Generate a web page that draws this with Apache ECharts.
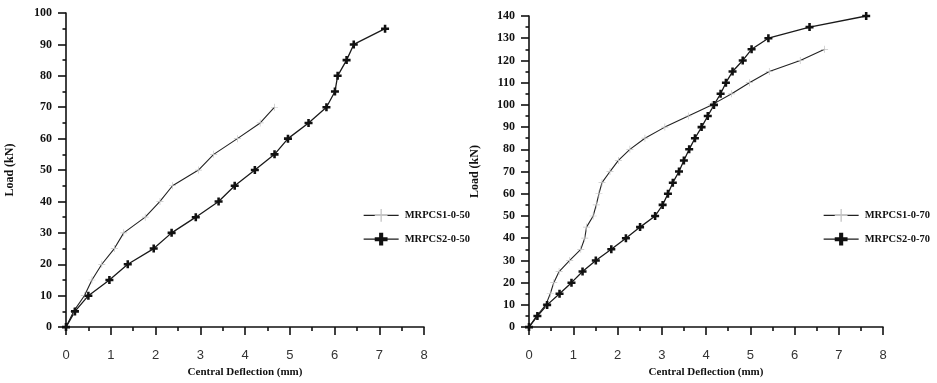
<!DOCTYPE html>
<html>
<head>
<meta charset="utf-8">
<script src="https://cdn.jsdelivr.net/npm/echarts@6/dist/echarts.min.js"></script>
<style>
html,body{margin:0;padding:0;background:#fff;}
#chart{width:937px;height:383px;}
</style>
</head>
<body>
<div id="chart"></div>
<script>
// ---- Data ----
const seriesNames = ['MRPCS1-0-50', 'MRPCS2-0-50', 'MRPCS1-0-70', 'MRPCS2-0-70'];

const loads50a = [0,5,10,15,20,25,30,35,40,45,50,55,60,65,70];
const defl50a  = [0,0.17,0.41,0.58,0.80,1.08,1.29,1.77,2.10,2.38,2.96,3.30,3.83,4.34,4.66];

const loads50b = [0,5,10,15,20,25,30,35,40,45,50,55,60,65,70,75,80,85,90,95];
const defl50b  = [0,0.20,0.50,0.97,1.38,1.96,2.36,2.90,3.41,3.77,4.22,4.66,4.96,5.42,5.82,6.01,6.07,6.27,6.43,7.13];

const loads70a = [0,5,10,15,20,25,30,35,40,45,50,55,60,65,70,75,80,85,90,95,100,105,110,115,120,125];
const defl70a  = [0,0.17,0.38,0.48,0.56,0.68,0.92,1.17,1.26,1.30,1.45,1.52,1.58,1.65,1.83,2.02,2.28,2.62,3.07,3.60,4.13,4.58,4.98,5.43,6.13,6.68];

const loads70b = [0,5,10,15,20,25,30,35,40,45,50,55,60,65,70,75,80,85,90,95,100,105,110,115,120,125,130,135,140];
const defl70b  = [0,0.19,0.41,0.69,0.96,1.21,1.51,1.86,2.19,2.51,2.85,3.02,3.14,3.25,3.39,3.50,3.62,3.75,3.90,4.04,4.18,4.33,4.45,4.60,4.83,5.03,5.41,6.34,7.62];

const xAxisTitle = 'Central Deflection (mm)';
const yAxisTitle = 'Load (kN)';

// ---- Build ----
function zip(xs, ys) { return xs.map((x, i) => [x, ys[i]]); }

const thinPlus = 'path://M9,0h2v20h-2zM0,9h20v2h-20z';
const thickPlus = 'path://M6.8,0h6.4v20h-6.4zM0,6.8h20v6.4h-20z';

const serifBold = { fontFamily: 'Liberation Serif', fontWeight: 'bold', color: '#111' };
const lineDark = '#222';
const lineThick = '#1a1a1a';

function xAxisCfg(gridIndex) {
  return {
    type: 'value', gridIndex: gridIndex, min: 0, max: 8, interval: 1,
    name: xAxisTitle, nameLocation: 'middle', nameGap: 37,
    nameTextStyle: Object.assign({ fontSize: 11 }, serifBold),
    axisLine: { show: true, onZero: false, lineStyle: { color: '#111', width: 1.6 } },
    axisTick: { show: true, length: 8, lineStyle: { color: '#111', width: 1.6 } },
    minorTick: { show: true, splitNumber: 2, length: 4, lineStyle: { color: '#111', width: 1.6 } },
    splitLine: { show: false },
    axisLabel: { margin: 22, fontSize: 13, color: '#333', fontFamily: 'Liberation Sans' }
  };
}
function yAxisCfg(gridIndex, max, nameGap) {
  return {
    type: 'value', gridIndex: gridIndex, min: 0, max: max, interval: 10,
    name: yAxisTitle, nameLocation: 'middle', nameGap: nameGap,
    nameTextStyle: Object.assign({ fontSize: 12 }, serifBold),
    axisLine: { show: true, onZero: false, lineStyle: { color: '#111', width: 1.6 } },
    axisTick: { show: true, length: 8, lineStyle: { color: '#111', width: 1.6 } },
    minorTick: { show: true, splitNumber: 2, length: 3.5, lineStyle: { color: '#111', width: 1.6 } },
    splitLine: { show: false },
    axisLabel: Object.assign({ margin: 14, fontSize: 12 }, serifBold)
  };
}
function lineSeries(name, idx, pts, thick) {
  return {
    name: name, type: 'line', xAxisIndex: idx, yAxisIndex: idx,
    data: pts,
    symbol: thick ? thickPlus : thinPlus,
    symbolSize: thick ? 8 : 7,
    showSymbol: true,
    lineStyle: { color: thick ? lineThick : lineDark, width: thick ? 1.3 : 1.1 },
    itemStyle: { color: thick ? '#111' : '#c4c4c4', borderWidth: 0 },
    emphasis: { disabled: true },
    animation: false
  };
}
function legendCfg(left, names) {
  return {
    data: [
      { name: names[0], itemStyle: { color: '#c4c4c4' }, lineStyle: { color: lineDark, width: 1.1 } },
      { name: names[1], itemStyle: { color: '#111' }, lineStyle: { color: lineThick, width: 1.3 } }
    ],
    orient: 'vertical', left: left, top: 204,
    itemWidth: 35, itemHeight: 16, itemGap: 11,
    textStyle: Object.assign({ fontSize: 10.5, padding: [0, 0, 0, 1] }, serifBold),
    selectedMode: false
  };
}

const chart = echarts.init(document.getElementById('chart'), null, { renderer: 'canvas' });
chart.setOption({
  backgroundColor: '#fff',
  animation: false,
  grid: [
    { left: 66, top: 13, width: 358, height: 315 },
    { left: 529, top: 16, width: 354, height: 312 }
  ],
  xAxis: [xAxisCfg(0), xAxisCfg(1)],
  yAxis: [yAxisCfg(0, 100, 50), yAxisCfg(1, 140, 48)],
  legend: [
    legendCfg(358, [seriesNames[0], seriesNames[1]]),
    legendCfg(818, [seriesNames[2], seriesNames[3]])
  ],
  series: [
    lineSeries(seriesNames[0], 0, zip(defl50a, loads50a), false),
    lineSeries(seriesNames[1], 0, zip(defl50b, loads50b), true),
    lineSeries(seriesNames[2], 1, zip(defl70a, loads70a), false),
    lineSeries(seriesNames[3], 1, zip(defl70b, loads70b), true)
  ]
});
</script>
</body>
</html>
